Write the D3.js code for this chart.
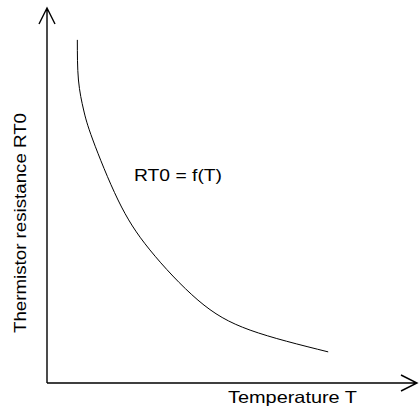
<!DOCTYPE html>
<html>
<head>
<meta charset="utf-8">
<script src="https://cdn.jsdelivr.net/npm/d3@7"></script>
<style>
  html, body { margin: 0; padding: 0; background: #fff; }
  text { font-family: "Liberation Sans", Arial, sans-serif; fill: #000; }
</style>
</head>
<body>
<svg id="chart"></svg>
<script>
// curve, in % of the axis lengths
var temperature = [8.2, 8.5, 9.9, 12.4, 19.2, 27.8, 40.8, 54.9, 76.0];
var resistance  = [91.5, 80.8, 72.8, 64.8, 48.8, 35.5, 22.1, 14.1, 8.3];

var xLabel = 'Temperature T';
var yLabel = 'Thermistor resistance RT0';
var curveLabel = 'RT0 = f(T)';

var width = 420;
var height = 408;

var x = d3.scaleLinear().domain([0, 100]).range([47, 417]);
var y = d3.scaleLinear().domain([0, 100]).range([383, 8]);

var svg = d3.select('#chart')
    .attr('width', width)
    .attr('height', height);

var points = temperature.map(function(t, i) { return [t, resistance[i]]; });

// axes with open arrow heads
var axes = svg.append('g')
    .attr('fill', 'none')
    .attr('stroke', '#000')
    .attr('stroke-width', 1.4);

axes.append('path')
    .attr('d', 'M' + x(0) + ',' + y(0) + 'V' + y(100) + 'M' + (x(0) - 8) + ',' + (y(100) + 16) + 'L' + x(0) + ',' + y(100) + 'L' + (x(0) + 8) + ',' + (y(100) + 16));

axes.append('path')
    .attr('d', 'M' + x(0) + ',' + y(0) + 'H' + x(100) + 'M' + (x(100) - 16) + ',' + (y(0) - 8) + 'L' + x(100) + ',' + y(0) + 'L' + (x(100) - 16) + ',' + (y(0) + 8));

var line = d3.line()
    .x(function(d) { return x(d[0]); })
    .y(function(d) { return y(d[1]); })
    .curve(d3.curveNatural);

svg.append('path')
    .datum(points)
    .attr('d', line)
    .attr('fill', 'none')
    .attr('stroke', '#000')
    .attr('stroke-width', 1);

svg.append('text')
    .attr('x', 134)
    .attr('y', 181)
    .attr('textLength', 88)
    .attr('lengthAdjust', 'spacingAndGlyphs')
    .style('font-size', '17px')
    .text(curveLabel);

svg.append('text')
    .attr('x', 228)
    .attr('y', 403)
    .attr('textLength', 129)
    .attr('lengthAdjust', 'spacingAndGlyphs')
    .style('font-size', '16.5px')
    .text(xLabel);

svg.append('text')
    .attr('transform', 'translate(26,333) rotate(-90)')
    .attr('textLength', 220)
    .attr('lengthAdjust', 'spacingAndGlyphs')
    .style('font-size', '17px')
    .text(yLabel);
</script>
</body>
</html>
